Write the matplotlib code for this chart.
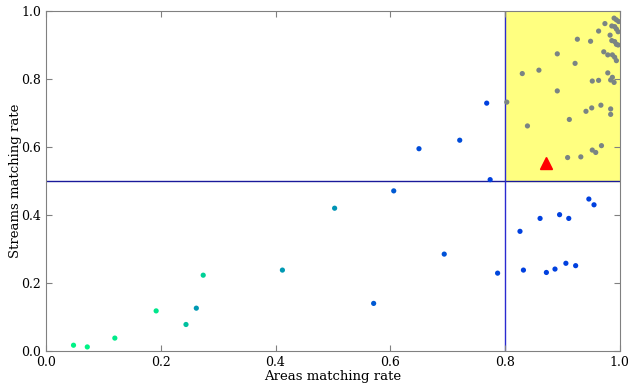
import numpy as np
import matplotlib
matplotlib.use("Agg")
import matplotlib.pyplot as plt

# points inside the good zone (grey)
good_x = [0.990, 0.994, 0.998, 0.974, 0.986, 0.991, 0.994, 0.997, 0.963, 0.983,
          0.926, 0.949, 0.986, 0.991, 0.994, 0.997, 0.891, 0.972, 0.979, 0.987,
          0.991, 0.994, 0.830, 0.859, 0.922, 0.979, 0.987, 0.984, 0.990, 0.952,
          0.963, 0.891, 0.803, 0.839, 0.912, 0.941, 0.951, 0.967, 0.984, 0.984,
          0.909, 0.932, 0.952, 0.958, 0.968]
good_y = [0.979, 0.974, 0.969, 0.963, 0.956, 0.954, 0.947, 0.939, 0.941, 0.929,
          0.917, 0.911, 0.913, 0.910, 0.902, 0.900, 0.874, 0.880, 0.871, 0.871,
          0.864, 0.854, 0.816, 0.826, 0.846, 0.818, 0.805, 0.797, 0.790, 0.794,
          0.796, 0.765, 0.732, 0.662, 0.681, 0.705, 0.715, 0.723, 0.712, 0.696,
          0.569, 0.571, 0.591, 0.584, 0.604]

# other points, coloured by a third value
other_x = [0.048, 0.072, 0.120, 0.192, 0.244, 0.262, 0.274, 0.412, 0.503, 0.571,
           0.606, 0.650, 0.694, 0.721, 0.768, 0.774, 0.787, 0.826, 0.832, 0.861,
           0.872, 0.887, 0.895, 0.906, 0.911, 0.923, 0.946, 0.955]
other_y = [0.017, 0.012, 0.038, 0.118, 0.078, 0.126, 0.223, 0.238, 0.420, 0.140,
           0.471, 0.595, 0.285, 0.620, 0.729, 0.504, 0.229, 0.352, 0.238, 0.390,
           0.231, 0.241, 0.401, 0.258, 0.390, 0.251, 0.447, 0.430]
other_c = [0.95, 0.95, 0.92, 0.90, 0.75, 0.6, 0.82, 0.6, 0.58, 0.35,
           0.35, 0.3, 0.32, 0.3, 0.25, 0.25, 0.28, 0.25, 0.25, 0.25,
           0.25, 0.25, 0.25, 0.25, 0.25, 0.25, 0.25, 0.25]

mean_x, mean_y = 0.871, 0.552

plt.rcParams['font.family'] = 'DejaVu Serif'
fig = plt.figure(figsize=(6.28, 3.85), dpi=100)
ax = fig.add_axes([0.0732, 0.0883, 0.9138, 0.8831])

ax.axvspan(0.8, 1.0, ymin=0.5, ymax=1.0, color='#ffff80', zorder=0)
ax.axhline(0.5, color='#1a1a9a', lw=1, zorder=1)
ax.axvline(0.8, color='#2a2ad0', lw=1, zorder=1)

ax.scatter(good_x, good_y, s=14, color='#7a8484', edgecolors='none', zorder=3)
ax.scatter(other_x, other_y, s=14, c=other_c, cmap='winter', vmin=0, vmax=1,
           edgecolors='none', zorder=3)
ax.plot(mean_x, mean_y, '^', color='red', markersize=8, markeredgecolor='red', zorder=4)

ax.set_xlim(0, 1)
ax.set_ylim(0, 1)
ax.set_xticks(np.arange(0, 1.01, 0.2))
ax.set_yticks(np.arange(0, 1.01, 0.2))
ax.tick_params(direction='in', top=True, right=True, color='grey', labelsize=9, length=4)
for s in ax.spines.values():
    s.set_color('grey')
ax.set_xlabel('Areas matching rate', fontsize=9.5, labelpad=1)
ax.set_ylabel('Streams matching rate', fontsize=9.5)
ax.yaxis.set_label_coords(-0.041, 0.5)

fig.savefig('out.png', dpi=100)
